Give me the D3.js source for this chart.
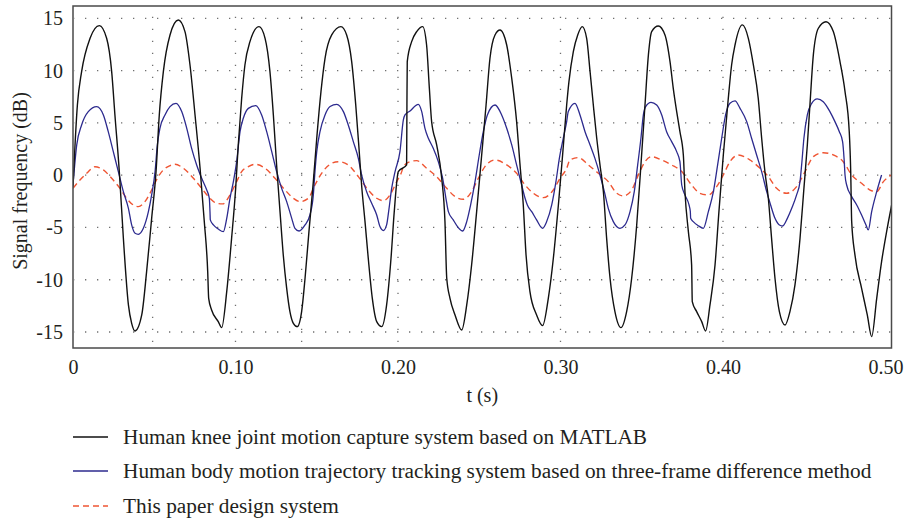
<!DOCTYPE html>
<html>
<head>
<meta charset="utf-8">
<script src="https://cdn.jsdelivr.net/npm/d3@7"></script>
<style>
  html, body { margin: 0; padding: 0; background: #fff; }
  svg { display: block; }
  text { font-family: "Liberation Serif", "Times New Roman", serif; fill: #231f20; }
</style>
</head>
<body>
<svg id="chart" width="904" height="519"></svg>
<script>
// ---- Data ----
const seriesNames = [
  "Human knee joint motion capture system based on MATLAB",
  "Human body motion trajectory tracking system based on three-frame difference method",
  "This paper design system"
];

const tBlack = [
  0.000,0.0027,0.0053,0.0105,0.0162,0.0207,0.0238,0.0258,0.0285,0.0310,0.0341,0.0361,0.0382,0.0423,0.0453,0.0484,0.0511,0.0531,0.0556,0.0597,0.0648,0.0689,0.0720,0.0751,0.0782,0.0808,0.0829,0.0835,0.0853,0.0894,0.0915,0.0946,0.0976,0.1001,
  0.1017,0.1038,0.1058,0.1089,0.1145,0.1182,0.1212,0.1233,0.1253,0.1274,0.1294,0.1315,0.1335,0.1356,0.1380,0.1407,0.1428,0.1452,0.1479,0.1500,0.1526,0.1551,0.1592,0.1649,0.1684,0.1715,0.1740,0.1760,0.1776,0.1797,0.1817,0.1842,0.1869,0.1900,0.1930,0.1957,0.1977,0.2002,
  0.2053,0.2055,0.2057,0.2084,0.2115,0.2152,0.2176,0.2193,0.2207,0.2238,0.2269,0.2289,0.2300,0.2320,0.2351,0.2392,0.2423,0.2453,0.2484,0.2515,0.2542,0.2566,0.2597,0.2628,0.2669,0.2700,0.2730,0.2751,0.2771,0.2788,0.2812,0.2853,0.2890,0.2925,0.2956,0.2987,0.3013,0.3038,
  0.3052,0.3079,0.3106,0.3134,0.3161,0.3182,0.3202,0.3223,0.3243,0.3264,0.3284,0.3305,0.3335,0.3372,0.3407,0.3438,0.3469,0.3495,0.3520,0.3541,0.3561,0.3602,0.3643,0.3674,0.3694,0.3715,0.3735,0.3756,0.3766,0.3787,0.3807,0.3811,0.3838,0.3869,0.3893,0.3920,0.3951,0.3975,0.4002,0.4029,0.4053,
  0.4074,0.4119,0.4156,0.4187,0.4217,0.4238,0.4258,0.4279,0.4299,0.4320,0.4347,0.4382,0.4412,0.4443,0.4474,0.4498,0.4519,0.4535,0.4556,0.4587,0.4634,0.4679,0.4720,0.4751,0.4777,0.4786,0.4792,0.4812,0.4853,0.4888,0.4915,0.4946,0.4976,0.5007,0.5038
];
const vBlack = [
  -1.10,6.71,9.90,13.09,14.30,13.09,9.90,5.76,0.34,-6.04,-12.41,-14.17,-14.90,-13.37,-9.23,-4.13,0.34,5.76,9.90,13.41,14.84,13.73,10.54,5.76,0.66,-4.44,-9.23,-11.78,-12.89,-14.01,-14.58,-11.14,-6.04,-1.26,
  2.89,7.35,10.54,12.77,14.21,13.09,9.90,5.76,0.98,-3.49,-7.63,-10.82,-13.05,-14.17,-14.49,-13.05,-9.86,-5.40,-0.62,3.53,7.99,11.18,13.41,14.21,13.41,10.86,6.71,2.57,-0.94,-4.44,-7.95,-11.78,-14.01,-14.49,-12.41,-7.95,-3.49,0.34,
  0.98,6.71,10.86,12.77,13.73,14.21,12.45,8.31,5.12,2.89,-0.30,-4.44,-9.86,-11.78,-13.37,-14.81,-12.41,-8.59,-3.49,1.93,6.71,11.18,13.41,13.89,12.45,9.26,5.12,0.98,-2.85,-7.63,-11.14,-13.37,-14.39,-11.78,-7.95,-2.85,1.93,6.71,
  8.94,11.82,13.41,14.21,13.09,9.90,6.71,3.53,0.98,-1.58,-6.04,-9.86,-13.05,-14.58,-13.05,-9.86,-4.76,0.98,6.71,11.50,13.73,14.27,13.41,10.86,8.31,6.08,4.16,1.93,-1.58,-5.40,-8.59,-12.10,-13.05,-14.01,-14.90,-12.41,-8.59,-3.49,1.93,6.71,10.54,
  12.45,14.37,13.09,10.54,7.35,3.53,0.34,-2.21,-6.04,-9.86,-13.05,-14.33,-13.05,-10.50,-6.04,-1.26,2.89,6.71,11.50,14.05,14.68,13.73,10.86,7.99,4.16,0.34,-4.44,-7.63,-10.82,-13.37,-15.44,-11.78,-8.27,-5.40,-2.85
];

const tBlue = [
  0.000,0.0023,0.0053,0.0094,0.0146,0.0187,0.0217,0.0248,0.0279,0.0310,0.0341,0.0361,0.0382,0.0402,0.0433,0.0464,0.0484,0.0505,0.0519,0.0535,0.0566,0.0597,0.0634,0.0669,0.0700,0.0730,0.0761,0.0792,0.0823,0.0839,0.0843,0.0845,0.0864,0.0894,0.0925,0.0946,0.0966,0.0987,0.1007,0.1028,
  0.1048,0.1079,0.1124,0.1161,0.1192,0.1223,0.1253,0.1284,0.1315,0.1346,0.1366,0.1391,0.1428,0.1458,0.1479,0.1489,0.1500,0.1520,0.1551,0.1582,0.1623,0.1664,0.1694,0.1725,0.1756,0.1776,0.1807,0.1838,0.1869,0.1889,0.1910,0.1930,0.1945,0.1961,0.1982,0.2012,
  0.2033,0.2043,0.2074,0.2125,0.2146,0.2166,0.2187,0.2217,0.2248,0.2275,0.2295,0.2310,0.2340,0.2371,0.2398,0.2423,0.2447,0.2474,0.2500,0.2525,0.2550,0.2597,0.2638,0.2669,0.2700,0.2730,0.2761,0.2782,0.2796,0.2823,0.2853,0.2890,0.2915,0.2946,0.2972,0.2993,0.3017,0.3038,
  0.3048,0.3089,0.3120,0.3151,0.3182,0.3212,0.3243,0.3270,0.3294,0.3325,0.3366,0.3397,0.3428,0.3454,0.3475,0.3495,0.3510,0.3524,0.3557,0.3592,0.3623,0.3653,0.3684,0.3715,0.3735,0.3746,0.3766,0.3791,0.3799,0.3801,0.3817,0.3848,0.3879,0.3910,0.3941,0.3967,0.3992,0.4016,0.4043,0.4074,
  0.4105,0.4146,0.4176,0.4207,0.4238,0.4269,0.4293,0.4320,0.4347,0.4367,0.4396,0.4423,0.4453,0.4474,0.4484,0.4498,0.4519,0.4546,0.4580,0.4617,0.4658,0.4689,0.4716,0.4736,0.4745,0.4751,0.4761,0.4792,0.4823,0.4853,0.4880,0.4894,0.4915,0.4946,0.4976
];
const vBlue = [
  -0.94,2.89,4.80,6.08,6.56,5.76,4.16,2.25,0.34,-1.58,-3.17,-4.76,-5.56,-5.66,-5.08,-3.49,-1.89,0.34,2.89,4.48,5.76,6.56,6.87,6.08,4.48,2.57,0.98,-0.30,-1.42,-2.21,-3.49,-4.28,-4.76,-5.15,-5.40,-4.13,-2.21,-0.62,1.29,4.16,
  5.44,6.39,6.65,5.76,4.16,2.25,0.34,-1.26,-2.53,-4.13,-5.08,-5.34,-4.76,-3.81,-1.89,0.34,2.25,4.16,5.76,6.56,6.78,6.08,4.80,3.21,1.61,0.02,-1.58,-2.69,-3.81,-4.92,-5.30,-4.76,-3.17,-1.26,0.34,2.25,
  5.28,5.76,6.14,6.78,6.08,4.48,3.53,2.57,1.29,-0.30,-2.21,-3.49,-4.28,-5.02,-5.34,-4.44,-2.85,-0.62,1.93,4.16,5.76,6.71,5.76,4.48,2.89,0.98,-0.94,-2.21,-2.85,-3.49,-4.28,-5.08,-4.44,-2.85,-0.62,1.61,3.53,5.12,
  6.08,6.87,5.76,4.16,2.89,1.61,0.02,-1.58,-3.17,-4.44,-5.08,-4.76,-3.49,-1.58,0.98,3.53,5.76,6.56,6.97,6.71,5.76,4.16,3.21,2.25,1.29,-0.94,-1.89,-2.85,-3.49,-4.13,-4.44,-4.83,-5.08,-3.49,-1.58,0.98,3.53,5.76,6.87,7.10,
  6.39,5.12,3.53,1.93,0.34,-1.58,-2.85,-4.13,-4.76,-4.86,-4.13,-3.17,-1.89,-0.62,0.98,3.53,5.76,6.87,7.29,7.03,6.08,5.12,4.16,3.21,1.61,0.02,-0.94,-2.05,-2.85,-3.81,-4.76,-5.24,-3.49,-1.58,0.02
];

const tRed = [
  0.000,0.0043,0.0084,0.0135,0.0187,0.0238,0.0289,0.0330,0.0371,0.0402,0.0443,0.0484,0.0519,0.0556,0.0597,0.0628,0.0679,0.0741,0.0792,0.0843,0.0884,0.0921,0.0966,0.1007,
  0.1038,0.1079,0.1120,0.1182,0.1243,0.1305,0.1356,0.1397,0.1448,0.1489,0.1530,0.1582,0.1633,0.1694,0.1756,0.1817,0.1869,0.1910,0.1951,0.1992,0.2023,
  0.2033,0.2074,0.2115,0.2176,0.2238,0.2300,0.2351,0.2402,0.2453,0.2494,0.2535,0.2597,0.2669,0.2730,0.2782,0.2833,0.2894,0.2956,0.2997,0.3038,
  0.3058,0.3110,0.3171,0.3233,0.3294,0.3346,0.3387,0.3438,0.3479,0.3520,0.3561,0.3623,0.3684,0.3746,0.3807,0.3858,0.3910,0.3961,0.4002,0.4043,
  0.4094,0.4166,0.4228,0.4279,0.4330,0.4392,0.4453,0.4505,0.4556,0.4617,0.4679,0.4740,0.4792,0.4853,0.4905,0.4946,0.4987,0.5038
];
const vRed = [
  -1.25,-0.46,0.18,0.81,0.50,-0.30,-1.26,-2.21,-2.85,-3.01,-2.53,-1.42,-0.30,0.50,0.91,1.04,0.66,-0.30,-1.26,-2.21,-2.69,-2.75,-1.89,-0.62,
  0.34,0.82,1.04,0.66,-0.30,-1.42,-2.21,-2.53,-2.21,-0.94,0.18,1.04,1.29,0.98,-0.14,-1.42,-2.21,-2.44,-1.89,-0.62,0.34,
  0.82,1.29,1.39,0.66,-0.14,-1.26,-2.05,-2.31,-1.58,-0.30,0.82,1.45,0.98,0.18,-0.94,-1.73,-2.15,-1.42,-0.30,0.66,
  1.45,1.68,0.98,0.18,-0.62,-1.73,-1.99,-1.42,0.02,1.29,1.77,1.45,0.98,0.34,-0.94,-1.73,-1.89,-1.10,0.02,1.29,
  1.93,1.45,0.66,-0.14,-1.26,-1.73,-1.10,0.34,1.77,2.15,1.93,1.29,0.02,-0.78,-1.42,-1.58,-0.62,0.02
];

const xTicks = [0, 0.1, 0.2, 0.3, 0.4, 0.5];
const xTickLabels = ["0", "0.10", "0.20", "0.30", "0.40", "0.50"];
const xGrid = [0.049, 0.1, 0.1407, 0.2, 0.3, 0.4];
const yTicks = [-15, -10, -5, 0, 5, 10, 15];
const yTickLabels = ["-15", "-10", "-5", "0", "5", "10", "15"];
const xTitle = "t (s)";
const yTitle = "Signal frequency (dB)";

// ---- Drawing ----
const svg = d3.select("#chart");
const L = 73, R = 891.5, T = 6, B = 348;
const x = d3.scaleLinear().domain([0, 0.5037]).range([L, R]);
const y = d3.scaleLinear().domain([-16.53, 16.18]).range([B, T]);

svg.append("defs").append("clipPath").attr("id", "plotclip")
  .append("rect").attr("x", L).attr("y", T).attr("width", R - L).attr("height", B - T);

// grid
const grid = svg.append("g");
grid.selectAll("line.h").data(yTicks).enter().append("line")
  .attr("x1", L + 1).attr("x2", R)
  .attr("y1", d => y(d)).attr("y2", d => y(d))
  .attr("stroke", "#6f6f6f").attr("stroke-width", 1.3)
  .attr("stroke-dasharray", "1.3,10.7").attr("stroke-dashoffset", -11);
grid.selectAll("line.v").data(xGrid).enter().append("line")
  .attr("y1", B).attr("y2", T)
  .attr("x1", d => x(d)).attr("x2", d => x(d))
  .attr("stroke", "#6f6f6f").attr("stroke-width", 1.3)
  .attr("stroke-dasharray", "1.3,10.7").attr("stroke-dashoffset", -6);

// lines
const mk = (ts, vs) => ts.map((t, i) => [t, vs[i]]);
const line = d3.line().x(d => x(d[0])).y(d => y(d[1])).curve(d3.curveMonotoneX);
const plot = svg.append("g").attr("clip-path", "url(#plotclip)");
plot.append("path").datum(mk(tRed, vRed)).attr("d", line)
  .attr("fill", "none").attr("stroke", "#ef5533").attr("stroke-width", 1.4)
  .attr("stroke-dasharray", "6,4");
plot.append("path").datum(mk(tBlue, vBlue)).attr("d", line)
  .attr("fill", "none").attr("stroke", "#2c2a8e").attr("stroke-width", 1.3);
plot.append("path").datum(mk(tBlack, vBlack)).attr("d", line)
  .attr("fill", "none").attr("stroke", "#111").attr("stroke-width", 1.4);

// frame
svg.append("rect").attr("x", L).attr("y", T).attr("width", R - L).attr("height", B - T)
  .attr("fill", "none").attr("stroke", "#4a4a4a").attr("stroke-width", 1.5);

// axes
const xAxis = d3.axisBottom(x).tickValues(xTicks).tickSize(0).tickPadding(12)
  .tickFormat((d, i) => xTickLabels[i]);
const gx = svg.append("g").attr("transform", `translate(0,${B})`).call(xAxis);
gx.select(".domain").remove();
gx.selectAll("text").style("font-size", "20px").style("font-family", "Liberation Serif").attr("fill", "#231f20");

const yAxis = d3.axisLeft(y).tickValues(yTicks).tickSize(0).tickPadding(10)
  .tickFormat((d, i) => yTickLabels[i]);
const gy = svg.append("g").attr("transform", `translate(${L},0)`).call(yAxis);
gy.select(".domain").remove();
gy.selectAll("text").style("font-size", "20px").style("font-family", "Liberation Serif").attr("fill", "#231f20");

// titles
svg.append("text").attr("x", (L + R) / 2 + 0).attr("y", 402)
  .attr("text-anchor", "middle").style("font-size", "20px").text(xTitle);
svg.append("text").attr("transform", "translate(27,181) rotate(-90)")
  .attr("text-anchor", "middle").style("font-size", "20px").text(yTitle);

// legend
const legendColors = ["#111", "#2c2a8e", "#ef5533"];
const legendDash = [null, null, "6,4"];
const legendY = [437, 471, 506];
const lg = svg.append("g");
seriesNames.forEach((name, i) => {
  lg.append("line").attr("x1", 73).attr("x2", 108)
    .attr("y1", legendY[i]).attr("y2", legendY[i])
    .attr("stroke", legendColors[i]).attr("stroke-width", 1.4)
    .attr("stroke-dasharray", legendDash[i]);
  lg.append("text").attr("x", 123).attr("y", legendY[i] + 6.5)
    .style("font-size", "21.3px").text(name);
});
</script>
</body>
</html>
